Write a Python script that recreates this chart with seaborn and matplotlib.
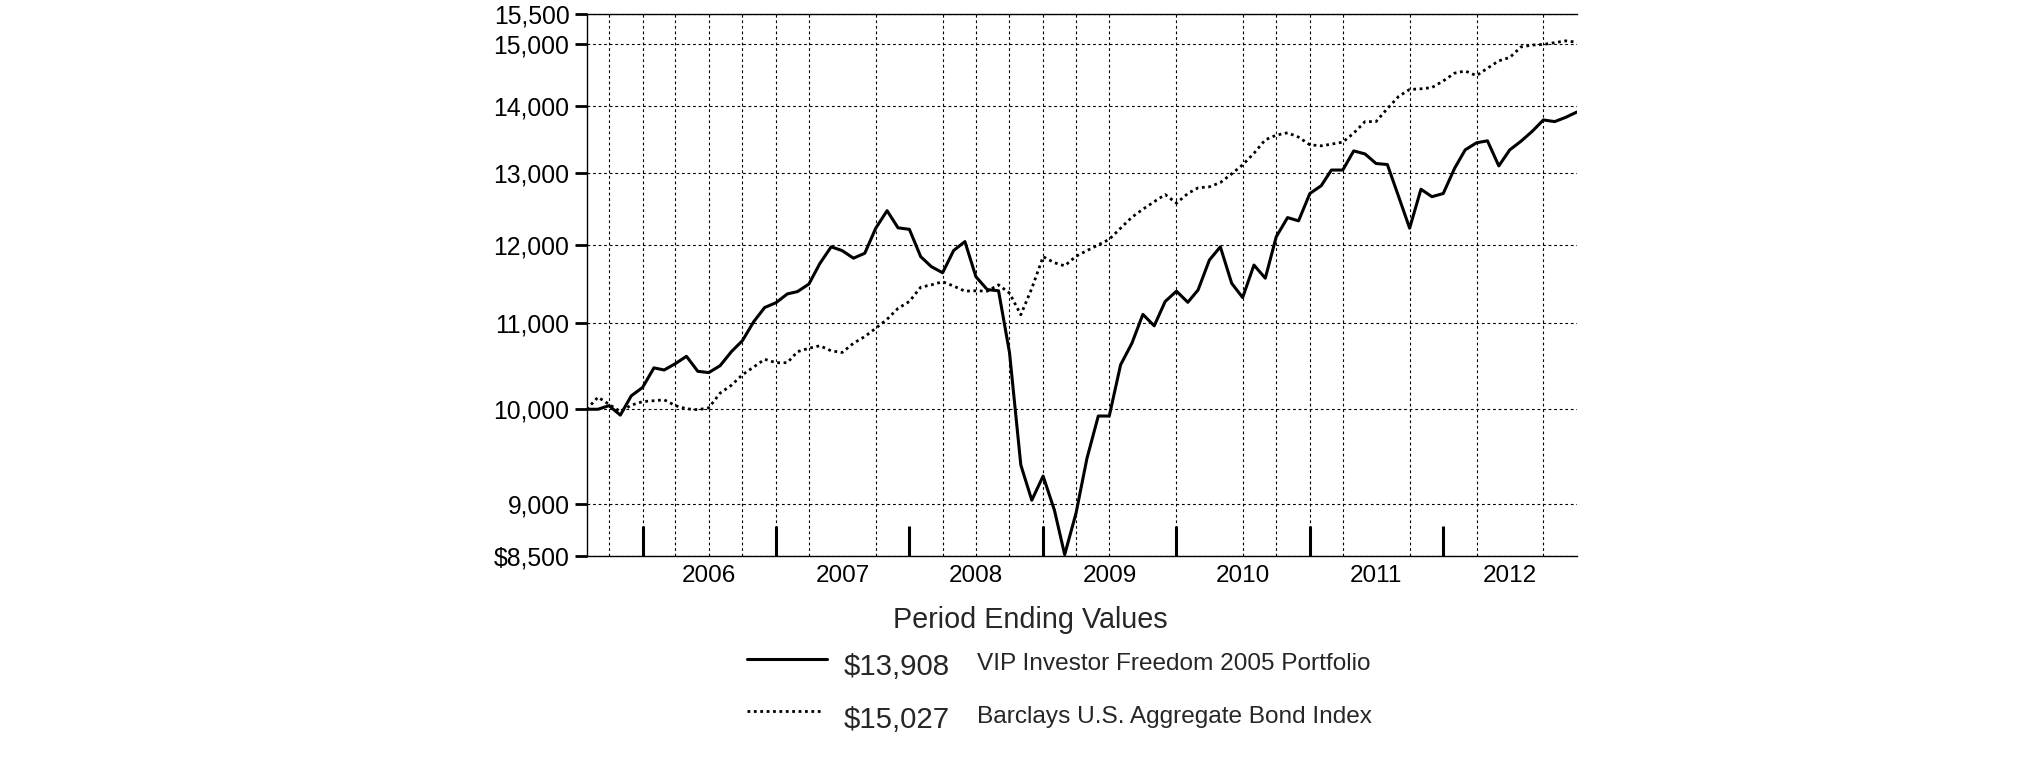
import numpy as np
import pandas as pd
import matplotlib
matplotlib.use('Agg')
import matplotlib.pyplot as plt
import matplotlib.ticker as mticker
from matplotlib.lines import Line2D
import seaborn as sns

# monthly period ending values, Jul 2005 - Dec 2012
months = pd.date_range('2005-07-31', periods=90, freq='ME')

fund = [10000, 10000, 10040, 9935, 10150, 10245, 10470, 10445, 10520, 10605,
        10430, 10415, 10495, 10660, 10790, 11020, 11195, 11255, 11365, 11395,
        11490, 11755, 11975, 11925, 11825, 11890, 12225, 12465, 12230, 12210,
        11845, 11715, 11635, 11925, 12045, 11585, 11420, 11405, 10650, 9400,
        9040, 9285, 8940, 8510, 8910, 9470, 9925, 9925, 10505, 10760,
        11110, 10970, 11270, 11400, 11260, 11415, 11800, 11975, 11500, 11320,
        11735, 11565, 12110, 12370, 12325, 12705, 12815, 13040, 13040, 13320,
        13275, 13135, 13120, 12660, 12225, 12765, 12660, 12705, 13065, 13335,
        13440, 13470, 13100, 13335, 13465, 13615, 13785, 13760, 13825, 13908]

bond = [10000, 10135, 10055, 9975, 10045, 10085, 10095, 10105, 10040, 10005,
        9995, 10015, 10180, 10270, 10390, 10480, 10570, 10530, 10530, 10660,
        10700, 10730, 10670, 10650, 10760, 10840, 10940, 11050, 11185, 11270,
        11450, 11480, 11520, 11465, 11400, 11405, 11400, 11480, 11375, 11105,
        11435, 11845, 11765, 11725, 11850, 11925, 12000, 12075, 12225, 12375,
        12485, 12590, 12690, 12570, 12705, 12785, 12800, 12860, 12985, 13115,
        13285, 13485, 13555, 13590, 13525, 13410, 13395, 13420, 13450, 13585,
        13760, 13760, 13960, 14150, 14260, 14270, 14290, 14395, 14520, 14555,
        14480, 14600, 14720, 14775, 14950, 14980, 14990, 15020, 15050, 15027]

fund_label = 'VIP Investor Freedom 2005 Portfolio'
bond_label = 'Barclays U.S. Aggregate Bond Index'
fund_end = '$13,908'
bond_end = '$15,027'

y_ticks = [8500, 9000, 10000, 11000, 12000, 13000, 14000, 15000, 15500]
y_labels = ['$8,500', '9,000', '10,000', '11,000', '12,000', '13,000',
            '14,000', '15,000', '15,500']
year_labels = ['2006', '2007', '2008', '2009', '2010', '2011', '2012']
year_ends = ['2005-12-31', '2006-12-31', '2007-12-31', '2008-12-31',
             '2009-12-31', '2010-12-31', '2011-12-31']
# vertical dotted grid (quarter ends, as drawn in the original)
grid_months = ['2005-09', '2005-12', '2006-03', '2006-06', '2006-09', '2006-12',
               '2007-03', '2007-09', '2008-03', '2008-06', '2008-09', '2008-12',
               '2009-03', '2009-06', '2009-12', '2010-06', '2010-09', '2010-12',
               '2011-03', '2011-09', '2012-03', '2012-09']

W, H = 2025, 761
sns.set_theme(style='white')
plt.rcParams['font.family'] = ['Liberation Sans', 'DejaVu Sans']

fig = plt.figure(figsize=(W / 100, H / 100), dpi=100)
ax = fig.add_axes([586.7 / W, 1 - 555.7 / H, (1577 - 586.7) / W, (555.7 - 14.3) / H])

df = pd.DataFrame({'date': months, 'fund': fund, 'bond': bond})
dot = (0, (1, 1.3))
grid_ls = (0, (2.5, 2.5))

sns.lineplot(data=df, x='date', y='fund', ax=ax, color='black', lw=2.2, zorder=3)
sns.lineplot(data=df, x='date', y='bond', ax=ax, color='black', lw=2.0,
             linestyle=dot, zorder=3)

ax.set_yscale('log')
ax.set_ylim(8500, 15500)
ax.set_xlim(months[0], months[-1])
ax.set_xlabel('')
ax.set_ylabel('')

ax.set_yticks(y_ticks, labels=y_labels)
ax.yaxis.set_minor_locator(mticker.NullLocator())
ax.tick_params(axis='y', which='major', left=True, direction='out', length=8.4,
               width=2, pad=4, labelsize=17.8, colors='black')
ax.yaxis.grid(True, which='major', color='black', lw=0.8, ls=grid_ls)

ax.set_xticks(pd.to_datetime(year_ends), labels=[''] * len(year_ends))
ax.tick_params(axis='x', which='major', bottom=True, direction='in', length=21.6,
               width=2.2, color='black')
mids = pd.to_datetime([f'{y}-07-01' for y in year_labels])
ax.set_xticks(mids, labels=year_labels, minor=True)
ax.tick_params(axis='x', which='minor', bottom=True, length=0, pad=7,
               labelsize=17.5, labelcolor='black')
ax.xaxis.grid(False)

for g in pd.to_datetime(grid_months) + pd.offsets.MonthEnd(0):
    ax.axvline(g, color='black', lw=0.8, ls=grid_ls, zorder=1)

for side in ['left', 'bottom', 'top']:
    ax.spines[side].set_color('black')
    ax.spines[side].set_linewidth(1.0)
ax.spines['right'].set_visible(False)

# legend block
fig.text(1030.8 / W, 1 - 628.3 / H, 'Period Ending Values', ha='center',
         va='baseline', fontsize=20.7)
fig.add_artist(Line2D([747.2 / W, 827.2 / W], [1 - 659 / H] * 2,
                      transform=fig.transFigure, color='black', lw=2.2))
fig.add_artist(Line2D([747 / W, 823 / W], [1 - 710.7 / H] * 2,
                      transform=fig.transFigure, color='black', lw=2.0, ls=dot))
fig.text(843.6 / W, 1 - 675 / H, fund_end, va='baseline', fontsize=21.2)
fig.text(977 / W, 1 - 670 / H, fund_label, va='baseline', fontsize=17.6)
fig.text(843.6 / W, 1 - 728.3 / H, bond_end, va='baseline', fontsize=21.2)
fig.text(977 / W, 1 - 723.3 / H, bond_label, va='baseline', fontsize=17.6)

fig.savefig('out.png', dpi=100, facecolor='white')
